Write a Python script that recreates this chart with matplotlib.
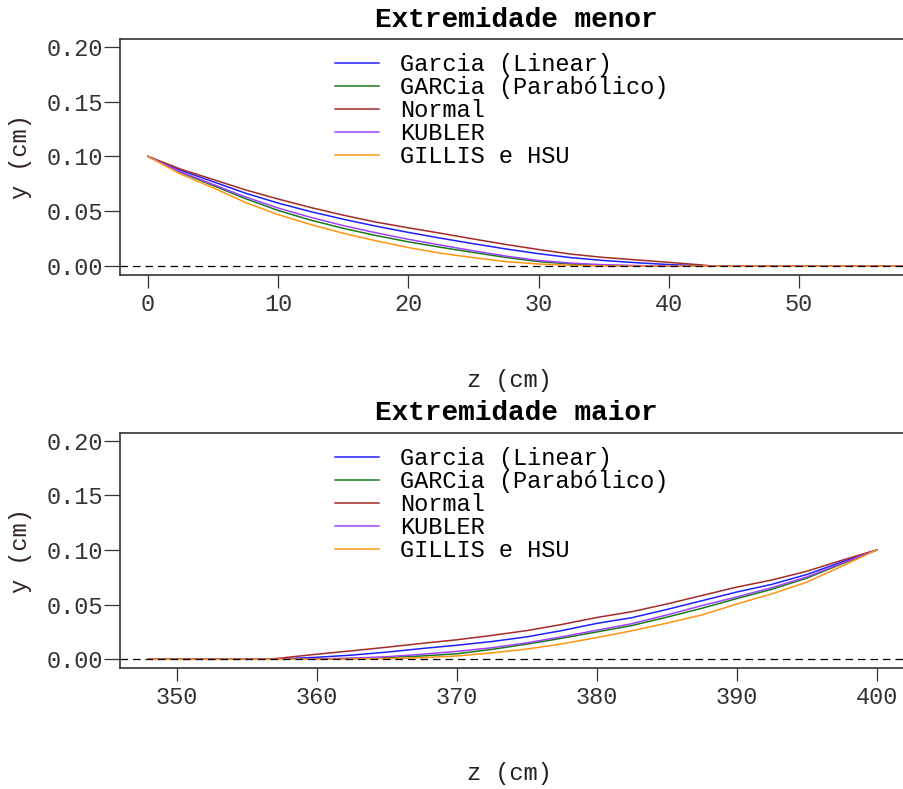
import matplotlib
matplotlib.use("Agg")
import matplotlib.pyplot as plt
from matplotlib.ticker import FormatStrFormatter

plt.rcParams['font.family'] = ['Liberation Mono', 'DejaVu Sans Mono']

# nomes das curvas e cores
labels = ["Garcia (Linear)", "GARCia (Parabólico)", "Normal", "KUBLER", "GILLIS e HSU"]
colors = ["#1f1fff", "#1a7a1a", "#a52a2a", "#a040ff", "#ff9410"]

# extremidade menor: z (cm) e deslocamentos y (cm)
z_menor = [0, 2.5, 5, 7.5, 10, 12.5, 15, 17.5, 20, 22.5, 25, 27.5, 30, 32.5, 35,
           37.5, 40, 42.5, 43.5, 58.5]
garcia_lin_menor = [0.100, 0.0875, 0.0770, 0.0665, 0.0575, 0.0497, 0.0428, 0.0365, 0.0308,
                    0.0255, 0.0205, 0.0157, 0.0114, 0.0078, 0.0052, 0.0032, 0.0015, 0.0004, 0, 0]
garcia_par_menor = [0.100, 0.0855, 0.0735, 0.0615, 0.0508, 0.0420, 0.0345, 0.0280, 0.0222,
                    0.0172, 0.0125, 0.0080, 0.0042, 0.0020, 0.0008, 0.0003, 0, 0, 0, 0]
normal_menor = [0.100, 0.0885, 0.0790, 0.0695, 0.0612, 0.0535, 0.0465, 0.0402, 0.0350,
                0.0300, 0.0248, 0.0198, 0.0152, 0.0110, 0.0080, 0.0058, 0.0035, 0.0012, 0, 0]
kubler_menor = [0.100, 0.0860, 0.0745, 0.0630, 0.0530, 0.0445, 0.0370, 0.0305, 0.0245,
                0.0192, 0.0140, 0.0092, 0.0052, 0.0028, 0.0014, 0.0006, 0.0002, 0, 0, 0]
gillis_menor = [0.100, 0.0840, 0.0715, 0.0580, 0.0470, 0.0380, 0.0300, 0.0232, 0.0170,
                0.0118, 0.0078, 0.0042, 0.0020, 0.0008, 0.0003, 0, 0, 0, 0, 0]

# extremidade maior
z_maior = [348, 356.5, 357.5, 360, 362.5, 365, 367.5, 370, 372.5, 375, 377.5, 380, 382.5,
           385, 387.5, 390, 392.5, 395, 397.5, 400]
garcia_lin_maior = [0, 0, 0.0004, 0.0018, 0.0038, 0.0065, 0.0098, 0.0128, 0.0162, 0.0205,
                    0.0262, 0.0328, 0.0380, 0.0455, 0.0535, 0.0615, 0.0685, 0.0775, 0.0890, 0.100]
garcia_par_maior = [0, 0, 0, 0.0002, 0.0007, 0.0016, 0.0030, 0.0050, 0.0090, 0.0138,
                    0.0192, 0.0250, 0.0308, 0.0385, 0.0466, 0.0555, 0.0640, 0.0742, 0.0872, 0.100]
normal_maior = [0, 0, 0.0012, 0.0046, 0.0077, 0.0110, 0.0145, 0.0178, 0.0218, 0.0262,
                0.0318, 0.0382, 0.0435, 0.0505, 0.0583, 0.0660, 0.0725, 0.0805, 0.0905, 0.100]
kubler_maior = [0, 0, 0, 0.0003, 0.0010, 0.0023, 0.0045, 0.0072, 0.0105, 0.0150,
                0.0205, 0.0265, 0.0325, 0.0405, 0.0490, 0.0570, 0.0655, 0.0752, 0.0878, 0.100]
gillis_maior = [0, 0, 0, 0, 0.0002, 0.0006, 0.0014, 0.0030, 0.0058, 0.0093,
                0.0140, 0.0198, 0.0260, 0.0330, 0.0405, 0.0505, 0.0598, 0.0705, 0.0850, 0.100]

yticks = [0.00, 0.05, 0.10, 0.15, 0.20]
xticks_menor = [0, 10, 20, 30, 40, 50]
xticks_maior = [350, 360, 370, 380, 390, 400]

W, H = 904, 789
fig = plt.figure(figsize=(W / 100, H / 100), dpi=100)


def painel(rect, titulo, z, series, xlim, xticks):
    left, top, right, bottom = rect
    ax = fig.add_axes([left / W, 1 - bottom / H, (right - left) / W, (bottom - top) / H])
    for y, lab, c in zip(series, labels, colors):
        ax.plot(z, y, color=c, lw=1.1, label=lab)
    ax.axhline(0, color="black", lw=0.9, dashes=(6, 4), zorder=5)

    ax.set_xlim(*xlim)
    ax.set_ylim(-0.008, 0.207)
    ax.set_xticks(xticks)
    ax.set_yticks(yticks)
    ax.yaxis.set_major_formatter(FormatStrFormatter("%.2f"))

    for s in ["left", "bottom", "top"]:
        ax.spines[s].set_linewidth(1.2)
        ax.spines[s].set_color("#333333")
    ax.spines["right"].set_visible(False)

    ax.tick_params(axis="x", direction="out", length=9.5, width=0.9, pad=3.5,
                   labelsize=17, colors="#333333")
    ax.tick_params(axis="y", direction="out", length=11.5, width=0.9, pad=1,
                   labelsize=17, colors="#333333")

    ax.set_title(titulo, fontsize=20, fontweight="bold", pad=9)
    ax.set_xlabel("z (cm)", fontsize=17, color="#222222")
    ax.set_ylabel("y (cm)", fontsize=17, color="#332222")
    ax.xaxis.set_label_coords(0.492, -0.40)
    ax.yaxis.set_label_coords(-0.111, 0.5)

    ax.legend(loc="upper left", bbox_to_anchor=(0.2715, 0.94), frameon=False,
              fontsize=17, handlelength=1.86, handletextpad=0.89,
              labelspacing=0.0, borderpad=0, borderaxespad=0)
    return ax


painel((120, 39, 912, 275), "Extremidade menor", z_menor,
       [garcia_lin_menor, garcia_par_menor, normal_menor, kubler_menor, gillis_menor],
       (-2.15, 58.68), xticks_menor)
painel((120, 433, 912, 668), "Extremidade maior", z_maior,
       [garcia_lin_maior, garcia_par_maior, normal_maior, kubler_maior, gillis_maior],
       (345.95, 402.52), xticks_maior)

fig.savefig("out.png", dpi=100)
